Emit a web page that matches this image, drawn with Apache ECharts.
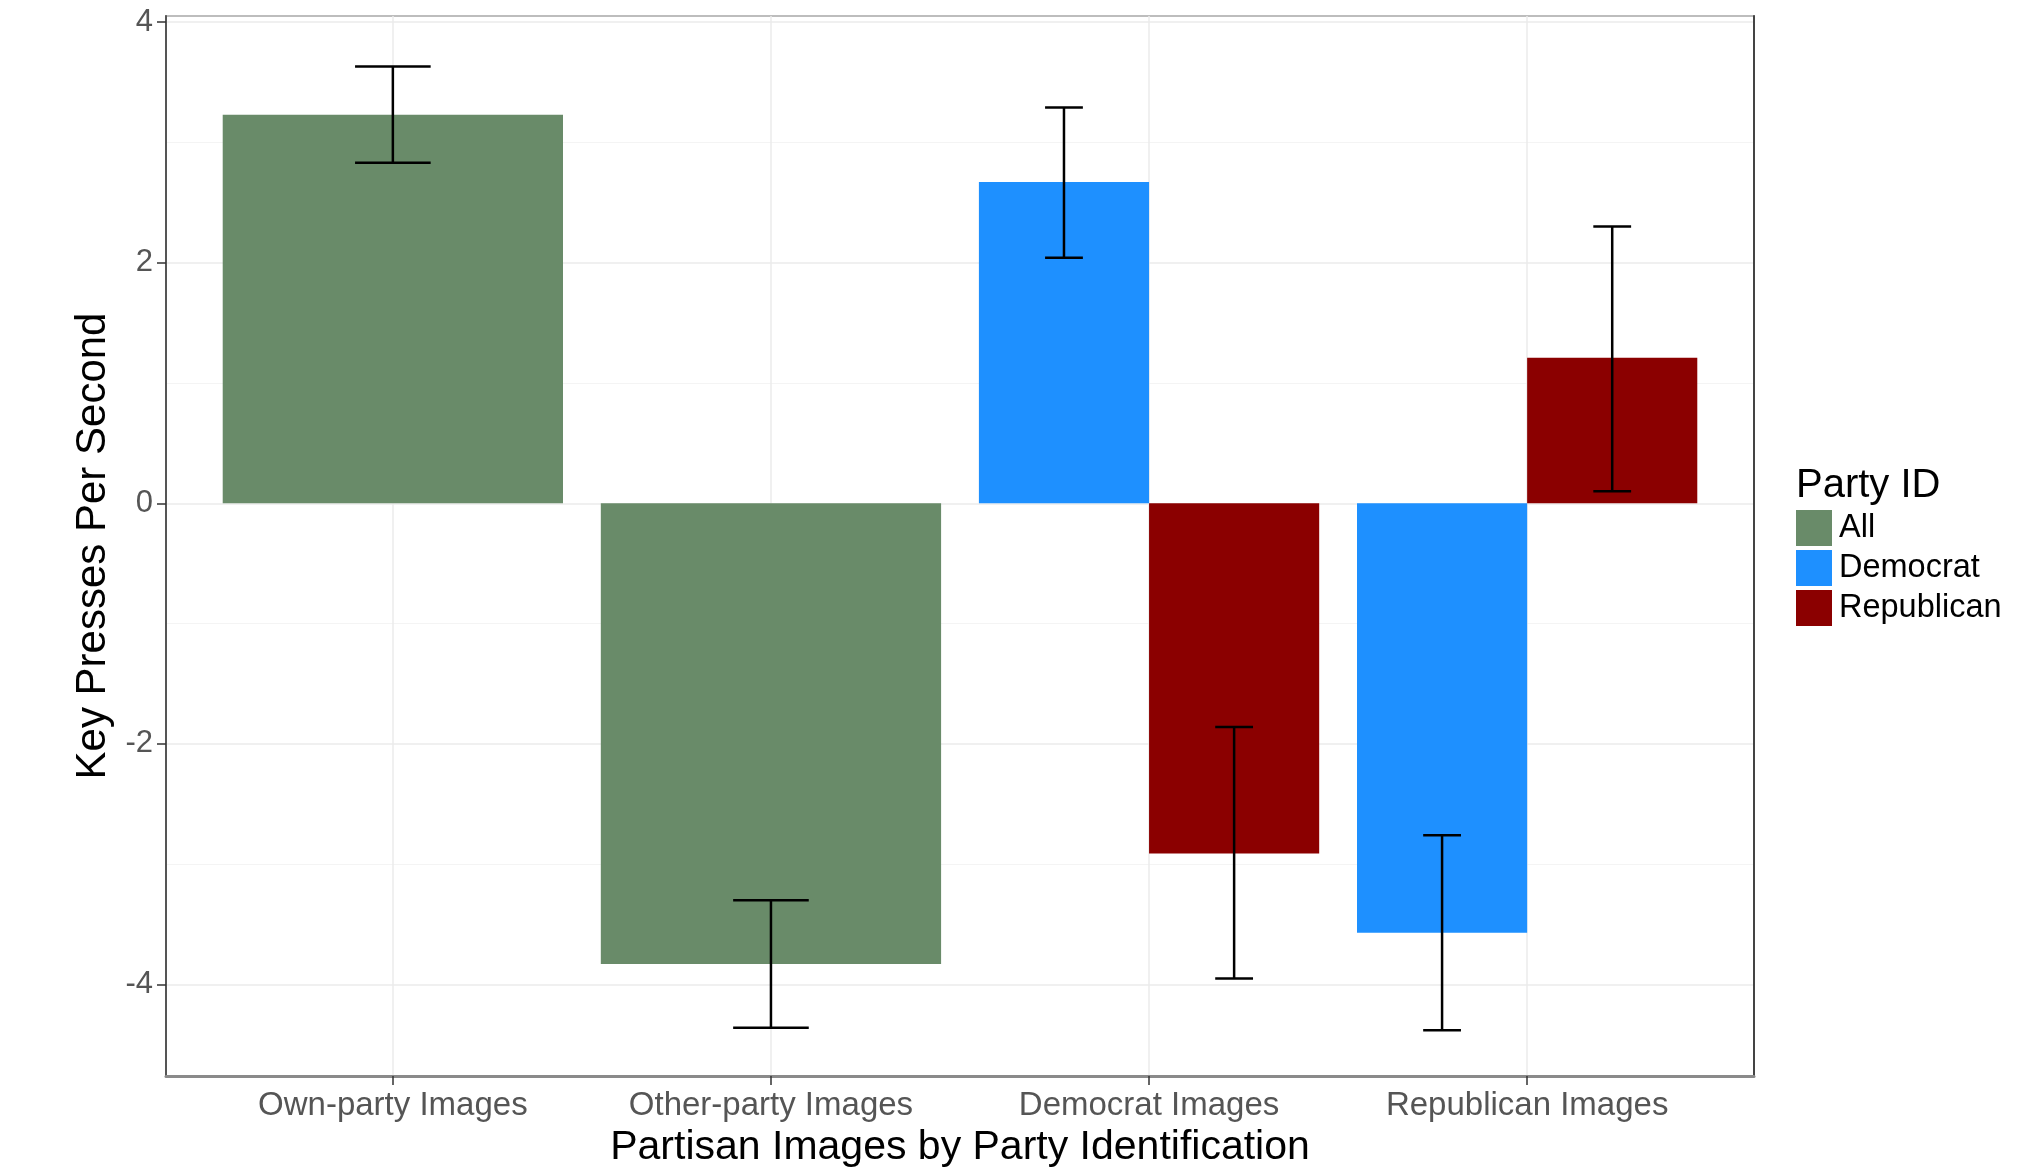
<!DOCTYPE html>
<html>
<head>
<meta charset="utf-8">
<title>Key Presses Per Second by Party Identification</title>
<script src="https://cdn.jsdelivr.net/npm/echarts@6/dist/echarts.min.js"></script>
<style>
  html, body { margin: 0; padding: 0; background: #fff; }
  #chart { width: 2038px; height: 1168px; }
</style>
</head>
<body>
<div id="chart"></div>
<script>
// categories on the x axis
const categories = ["Own-party Images", "Other-party Images", "Democrat Images", "Republican Images"];
const parties = ["All", "Democrat", "Republican"];
const partyColors = ["#698B69", "#1E90FF", "#8B0000"];

// mean key presses per second (null = no bar in that category)
const allMeans = [3.23, -3.83, null, null];
const demMeans = [null, null, 2.67, -3.57];
const repMeans = [null, null, -2.91, 1.21];

// error bar ends
const allLow = [2.83, -4.36, null, null];
const allHigh = [3.63, -3.30, null, null];
const demLow = [null, null, 2.04, -4.38];
const demHigh = [null, null, 3.29, -2.76];
const repLow = [null, null, -3.95, 0.10];
const repHigh = [null, null, -1.86, 2.30];

const yTicks = [-4, -2, 0, 2, 4];

const means = [allMeans, demMeans, repMeans];
const lows = [allLow, demLow, repLow];
const highs = [allHigh, demHigh, repHigh];

const BAR_WIDTH = 0.9;
const WHISKER_WIDTH = 0.2;
const FONT = "'Liberation Sans', Arial, sans-serif";

// dodge slot of party p inside category i
function slotOf(p, i) {
  const present = parties.map((_, k) => k).filter((k) => means[k][i] != null);
  return [present.indexOf(p), present.length];
}

function barData(p) {
  const rows = [];
  categories.forEach((_, i) => {
    if (means[p][i] == null) return;
    const [slot, n] = slotOf(p, i);
    rows.push([i + 1, means[p][i], slot, n]);
  });
  return rows;
}

const errorData = [];
parties.forEach((_, p) => {
  categories.forEach((_, i) => {
    if (means[p][i] == null) return;
    const [slot, n] = slotOf(p, i);
    errorData.push([i + 1, lows[p][i], highs[p][i], slot, n]);
  });
});

function renderBar(params, api) {
  const n = api.value(3);
  const w = BAR_WIDTH / n;
  const left = api.value(0) - BAR_WIDTH / 2 + api.value(2) * w;
  const p0 = api.coord([left, api.value(1)]);
  const p1 = api.coord([left + w, 0]);
  return {
    type: "rect",
    shape: {
      x: p0[0],
      y: Math.min(p0[1], p1[1]),
      width: p1[0] - p0[0],
      height: Math.abs(p1[1] - p0[1]),
    },
    style: { fill: api.visual("color") },
  };
}

function renderErrorBar(params, api) {
  const n = api.value(4);
  const w = BAR_WIDTH / n;
  const cx = api.value(0) - BAR_WIDTH / 2 + (api.value(3) + 0.5) * w;
  const half = WHISKER_WIDTH / n / 2;
  const lo = api.coord([cx, api.value(1)]);
  const hi = api.coord([cx, api.value(2)]);
  const l = api.coord([cx - half, 0])[0];
  const r = api.coord([cx + half, 0])[0];
  const style = { stroke: "#000", lineWidth: 2.5 };
  return {
    type: "group",
    children: [
      { type: "line", shape: { x1: lo[0], y1: lo[1], x2: hi[0], y2: hi[1] }, style },
      { type: "line", shape: { x1: l, y1: hi[1], x2: r, y2: hi[1] }, style },
      { type: "line", shape: { x1: l, y1: lo[1], x2: r, y2: lo[1] }, style },
    ],
  };
}

const chart = echarts.init(document.getElementById("chart"));
chart.setOption({
  animation: false,
  backgroundColor: "#fff",
  title: {
    text: "Party ID",
    left: 1796,
    top: 466,
    padding: 0,
    textStyle: { fontFamily: FONT, fontSize: 40, fontWeight: "normal", color: "#000" },
  },
  legend: {
    orient: "vertical",
    left: 1796,
    top: 510,
    itemWidth: 36,
    itemHeight: 36,
    itemGap: 4,
    padding: 0,
    icon: "rect",
    selectedMode: false,
    data: parties.map((name, k) => ({ name, itemStyle: { color: partyColors[k] } })),
    textStyle: { fontFamily: FONT, fontSize: 32.5, color: "#000", padding: [0, 0, 0, 2] },
  },
  grid: {
    left: 166,
    top: 16,
    width: 1588,
    height: 1060,
    show: true,
    borderColor: "#bdbdbd",
    borderWidth: 2,
    outerBoundsMode: "none",
    containLabel: false,
  },
  xAxis: {
    type: "value",
    min: 0.4,
    max: 4.6,
    name: "Partisan Images by Party Identification",
    nameLocation: "middle",
    nameGap: 49,
    nameTextStyle: { fontFamily: FONT, fontSize: 41, color: "#000" },
    axisLine: { show: true, onZero: false, lineStyle: { color: "#8a8a8a", width: 3 } },
    axisTick: { show: true, length: 9, customValues: [1, 2, 3, 4], lineStyle: { color: "#333", width: 1.5 } },
    axisLabel: {
      margin: 13,
      fontFamily: FONT,
      fontSize: 33,
      color: "#555",
      formatter: (v) => (Number.isInteger(v) ? categories[v - 1] || "" : ""),
    },
    splitLine: { show: true, lineStyle: { color: "#ebebeb", width: 1.5 } },
  },
  yAxis: [
    {
      type: "value",
      min: -4.76,
      max: 4.05,
      splitNumber: 5,
      name: "Key Presses Per Second",
      nameLocation: "middle",
      nameGap: 52,
      nameTextStyle: { fontFamily: FONT, fontSize: 42, color: "#000" },
      axisLine: { show: true, onZero: false, lineStyle: { color: "#555", width: 2 } },
      axisTick: { show: true, length: 9, customValues: yTicks, lineStyle: { color: "#333", width: 1.5 } },
      axisLabel: {
        margin: 13,
        fontFamily: FONT,
        fontSize: 31,
        color: "#555",
        formatter: (v) => (yTicks.includes(v) ? String(v) : ""),
      },
      splitLine: { show: true, lineStyle: { color: "#ebebeb", width: 1.5 } },
      minorTick: { show: false, splitNumber: 2 },
      minorSplitLine: { show: true, lineStyle: { color: "#f4f4f4", width: 1 } },
    },
    {
      type: "value",
      min: -4.76,
      max: 4.05,
      position: "right",
      axisLine: { show: true, onZero: false, lineStyle: { color: "#444", width: 2 } },
      axisTick: { show: false },
      axisLabel: { show: false },
      splitLine: { show: false },
    },
  ],
  series: [
    ...parties.map((name, k) => ({
      name,
      type: "custom",
      renderItem: renderBar,
      itemStyle: { color: partyColors[k] },
      encode: { x: 0, y: 1 },
      data: barData(k),
      z: 2,
    })),
    {
      name: "error",
      type: "custom",
      renderItem: renderErrorBar,
      encode: { x: 0, y: [1, 2] },
      data: errorData,
      z: 3,
    },
  ],
});
</script>
</body>
</html>
